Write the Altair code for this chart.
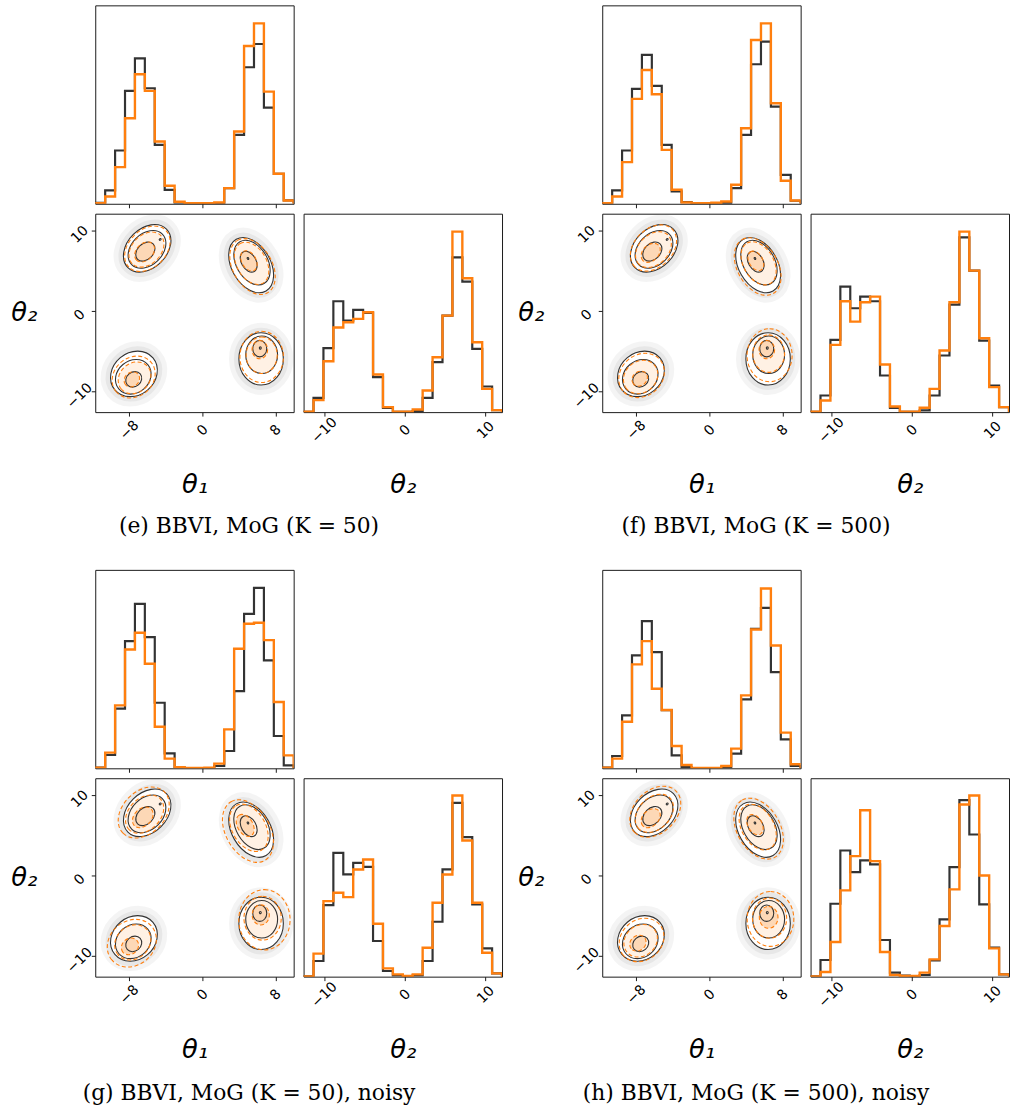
import numpy as np
import pandas as pd
import altair as alt

# Sample ranges of the two parameters; each 1-D histogram uses 20 bins over them.
THETA1_RANGE = [-11.7, 10.0]
THETA2_RANGE = [-12.55, 12.05]
N_BINS = 20
HIST_TOP = 596  # 1.1 x the tallest bin

THETA1_TICKS = [-8, 0, 8]
THETA2_TICKS = [-10, 0, 10]

# ---- 1-D marginal histograms (bin heights), reference (black) vs. BBVI (orange) ----
E_T1_REF = [3, 40, 160, 339, 437, 347, 177, 42, 3, 1, 1, 1, 2, 47, 207, 410, 480, 289, 90, 10]
E_T1_APX = [2, 22, 110, 257, 389, 339, 187, 54, 6, 2, 2, 2, 4, 47, 217, 474, 542, 337, 90, 10]
E_T2_REF = [1, 43, 192, 333, 275, 307, 298, 105, 13, 1, 1, 3, 43, 150, 290, 465, 392, 190, 77, 6]
E_T2_APX = [1, 36, 153, 254, 270, 280, 300, 113, 15, 1, 1, 8, 65, 165, 290, 542, 402, 210, 70, 6]

F_T1_REF = [2, 40, 160, 345, 447, 354, 177, 37, 5, 2, 1, 1, 2, 47, 207, 419, 487, 292, 87, 9]
F_T1_APX = [2, 22, 125, 315, 402, 329, 162, 42, 4, 2, 2, 3, 7, 57, 227, 492, 542, 302, 69, 10]
F_T2_REF = [1, 50, 217, 377, 312, 347, 333, 110, 13, 1, 1, 5, 50, 170, 323, 525, 425, 215, 80, 15]
F_T2_APX = [1, 35, 202, 333, 272, 330, 347, 143, 17, 1, 1, 13, 70, 185, 330, 542, 425, 222, 75, 15]

G_T1_REF = [2, 40, 179, 382, 494, 394, 197, 45, 3, 1, 1, 1, 7, 52, 232, 464, 542, 324, 97, 9]
G_T1_APX = [2, 47, 189, 357, 407, 314, 125, 29, 3, 1, 1, 2, 14, 117, 359, 434, 437, 385, 199, 39]
G_T2_REF = [1, 47, 215, 372, 307, 342, 330, 107, 17, 4, 2, 4, 47, 165, 322, 522, 419, 217, 85, 10]
G_T2_APX = [1, 69, 227, 252, 239, 322, 352, 159, 25, 7, 2, 7, 87, 222, 307, 544, 409, 222, 72, 10]

H_T1_REF = [2, 37, 159, 339, 442, 349, 175, 39, 4, 1, 1, 1, 3, 44, 207, 419, 482, 289, 87, 7]
H_T1_APX = [2, 29, 140, 312, 382, 239, 175, 67, 10, 1, 1, 1, 7, 59, 219, 417, 540, 369, 107, 12]
H_T2_REF = [1, 50, 219, 379, 314, 349, 337, 110, 12, 3, 2, 5, 49, 172, 329, 530, 427, 217, 87, 7]
H_T2_APX = [1, 14, 104, 259, 362, 500, 347, 74, 5, 2, 2, 12, 52, 152, 262, 517, 544, 304, 85, 7]

# ---- 2-D density contours: (mode, level, centre θ1, centre θ2, semi-major axis in θ1 units) ----
MODES = ["A", "B", "C", "D"]
MODE_TILT = {"A": 315, "B": 60, "C": 90, "D": 320}      # orientation of each mode, degrees
MODE_ELONGATION = {"A": 0.72, "B": 0.65, "C": 0.85, "D": 0.85}  # minor / major axis

REF_CONTOURS = [
    ("A", 1, -6.02, 7.76, 2.98), ("A", 2, -6.04, 7.63, 2.37), ("A", 3, -6.22, 7.36, 1.20), ("A", 4, -4.60, 8.86, 0.12),
    ("B", 1, 5.35, 5.67, 3.26), ("B", 2, 5.44, 5.98, 2.64), ("B", 3, 5.08, 6.10, 1.23), ("B", 4, 5.00, 6.50, 0.12),
    ("C", 1, 6.44, -5.95, 2.86), ("C", 2, 6.50, -5.44, 2.05), ("C", 3, 6.29, -4.68, 0.90), ("C", 4, 6.35, -4.60, 0.12),
    ("D", 1, -7.47, -7.81, 2.72), ("D", 2, -7.54, -8.17, 2.07), ("D", 3, -7.49, -8.49, 0.93),
]
E_APX_CONTOURS = [
    ("A", 1, -6.00, 7.70, 2.85), ("A", 2, -6.10, 7.60, 2.20), ("A", 3, -6.30, 7.30, 1.25),
    ("B", 1, 5.50, 5.50, 3.30), ("B", 2, 5.40, 5.90, 2.50), ("B", 3, 5.10, 6.20, 1.20),
    ("C", 1, 6.50, -5.70, 2.80), ("C", 2, 6.50, -5.50, 2.00), ("C", 3, 6.30, -4.80, 1.00),
    ("D", 1, -7.50, -8.20, 2.50), ("D", 2, -7.40, -8.30, 1.90), ("D", 3, -7.70, -8.50, 0.90),
]
F_APX_CONTOURS = [
    ("A", 1, -6.10, 7.80, 2.90), ("A", 2, -6.10, 7.60, 2.25), ("A", 3, -6.40, 7.20, 1.20),
    ("B", 1, 5.30, 5.50, 3.40), ("B", 2, 5.40, 5.90, 2.55), ("B", 3, 5.10, 6.20, 1.15),
    ("C", 1, 6.60, -5.50, 2.90), ("C", 2, 6.50, -5.30, 2.05), ("C", 3, 6.30, -4.80, 1.00),
    ("D", 1, -7.40, -8.00, 2.65), ("D", 2, -7.50, -8.20, 2.00), ("D", 3, -7.60, -8.40, 0.90),
]
G_APX_CONTOURS = [
    ("A", 1, -6.40, 7.80, 3.20), ("A", 2, -6.30, 7.60, 2.40), ("A", 3, -6.50, 7.20, 1.30),
    ("B", 1, 5.00, 5.50, 3.70), ("B", 2, 5.10, 5.90, 2.80), ("B", 3, 4.70, 6.20, 1.30),
    ("C", 1, 6.80, -5.50, 3.30), ("C", 2, 6.60, -5.30, 2.40), ("C", 3, 6.40, -4.90, 1.10),
    ("D", 1, -7.70, -8.40, 2.85), ("D", 2, -7.60, -8.30, 2.10), ("D", 3, -7.90, -8.80, 1.00),
]
H_APX_CONTOURS = [
    ("A", 1, -5.90, 7.90, 3.20), ("A", 2, -6.00, 7.70, 2.40), ("A", 3, -6.40, 7.10, 1.20),
    ("B", 1, 5.40, 5.80, 3.60), ("B", 2, 5.30, 6.00, 2.70), ("B", 3, 5.00, 6.30, 1.20),
    ("C", 1, 6.70, -5.40, 3.00), ("C", 2, 6.60, -5.30, 2.20), ("C", 3, 6.50, -5.20, 1.20),
    ("D", 1, -7.40, -8.00, 2.60), ("D", 2, -7.50, -8.10, 1.95), ("D", 3, -7.80, -8.40, 0.95),
]

CAPTIONS = {
    "e": "(e) BBVI, MoG (K = 50)",
    "f": "(f) BBVI, MoG (K = 500)",
    "g": "(g) BBVI, MoG (K = 50), noisy",
    "h": "(h) BBVI, MoG (K = 500), noisy",
}

REF_COLOR = "#333333"
APX_COLOR = "#ff7f0e"
PANEL = 200
GAP = 10
COL_SPACER = 81
ROW_SPACER = 139

LABEL_STYLE = dict(labelAngle=315, labelAlign="center", labelBaseline="middle")


def ellipse_path(b):
    return f"M -1 0 A 1 {b} 0 1 1 1 0 A 1 {b} 0 1 1 -1 0 Z"


SHAPE_SCALE = alt.Scale(domain=MODES, range=[ellipse_path(MODE_ELONGATION[m]) for m in MODES])
# symbol size is an area: a pow(2) scale turns the semi-axis (θ1 units) into pixels²
PX_PER_UNIT = PANEL / (THETA1_RANGE[1] - THETA1_RANGE[0])
SIZE_SCALE = alt.Scale(type="pow", exponent=2, domain=[0, 4], range=[0, (2 * 4 * PX_PER_UNIT) ** 2])


def hist_frame(counts, rng, series):
    edges = np.linspace(rng[0], rng[1], N_BINS + 1)
    xs = [edges[0]] + list(edges[:-1]) + [edges[-1], edges[-1]]
    ys = [0] + list(counts) + [counts[-1], 0]
    return pd.DataFrame({"x": xs, "n": ys, "i": range(len(xs)), "series": series})


def hist_chart(ref, apx, rng, ticks, title, labels):
    df = pd.concat([hist_frame(ref, rng, "ref"), hist_frame(apx, rng, "apx")], ignore_index=True)
    axis = alt.Axis(values=ticks, labels=labels, title=title, labelPadding=14,
                    titleY=73, titleBaseline="middle", **LABEL_STYLE)
    base = alt.Chart(df).encode(
        x=alt.X("x:Q", scale=alt.Scale(domain=rng, nice=False, zero=False), axis=axis),
        y=alt.Y("n:Q", scale=alt.Scale(domain=[0, HIST_TOP], nice=False), axis=None),
        order="i:Q",
    )
    ref_line = base.transform_filter("datum.series == 'ref'").mark_line(
        interpolate="step-after", color=REF_COLOR, strokeWidth=2.2, clip=True)
    apx_line = base.transform_filter("datum.series == 'apx'").mark_line(
        interpolate="step-after", color=APX_COLOR, strokeWidth=2.4, clip=True)
    return alt.layer(ref_line, apx_line).properties(width=PANEL, height=PANEL)


def contour_frame(rows, series):
    df = pd.DataFrame(rows, columns=["mode", "level", "cx", "cy", "r"])
    df["series"] = series
    df["tilt"] = df["mode"].map(MODE_TILT)
    return df


def scatter_chart(apx_rows, caption, caption_offset):
    df = pd.concat([contour_frame(REF_CONTOURS, "ref"), contour_frame(apx_rows, "apx")], ignore_index=True)
    base = alt.Chart(df).encode(
        x=alt.X("cx:Q", scale=alt.Scale(domain=THETA1_RANGE, nice=False, zero=False),
                axis=alt.Axis(values=THETA1_TICKS, title="θ₁", labelPadding=14,
                              titleY=73, titleBaseline="middle", **LABEL_STYLE)),
        y=alt.Y("cy:Q", scale=alt.Scale(domain=THETA2_RANGE, nice=False, zero=False),
                axis=alt.Axis(values=THETA2_TICKS, title="θ₂", labelPadding=12, labelOffset=4,
                              titleAngle=0, titleX=-72, titleY=100, titleAlign="center",
                              titleBaseline="middle", **LABEL_STYLE)),
        size=alt.Size("r:Q", scale=SIZE_SCALE, legend=None),
        shape=alt.Shape("mode:N", scale=SHAPE_SCALE, legend=None),
        angle=alt.Angle("tilt:Q", scale=None),
    )
    outer_ref = base.transform_filter("datum.series == 'ref' && datum.level == 1")
    haze_wide = outer_ref.mark_point(filled=False, color="#8a8a8a", strokeWidth=20, opacity=0.09, clip=True)
    haze_mid = outer_ref.mark_point(filled=False, color="#8a8a8a", strokeWidth=10, opacity=0.12, clip=True)
    inner_white = outer_ref.mark_point(filled=True, color="#ffffff", opacity=1, clip=True)
    apx_mid = base.transform_filter("datum.series == 'apx' && datum.level == 2").mark_point(
        filled=True, color="#fff1e4", opacity=1, clip=True)
    apx_core = base.transform_filter("datum.series == 'apx' && datum.level == 3").mark_point(
        filled=True, color="#fdd8b6", opacity=1, clip=True)
    ref_lines = base.transform_filter("datum.series == 'ref'").mark_point(
        filled=False, color=REF_COLOR, strokeWidth=1.1, opacity=1, clip=True)
    apx_lines = base.transform_filter("datum.series == 'apx'").mark_point(
        filled=False, color=APX_COLOR, strokeWidth=1.1, strokeDash=[4, 2.5], opacity=1, clip=True)
    return alt.layer(haze_wide, haze_mid, inner_white, apx_mid, apx_core, ref_lines, apx_lines).properties(
        width=PANEL, height=PANEL,
        title=alt.TitleParams(caption, orient="bottom", anchor="middle", frame="group", dx=55,
                              offset=caption_offset, font="DejaVu Serif", fontSize=22,
                              fontWeight="normal", color="black"),
    )


def blank(w, h):
    return alt.Chart(pd.DataFrame({"v": [0]})).mark_point(opacity=0, size=0).encode(
        x=alt.X("v:Q", axis=None), y=alt.Y("v:Q", axis=None)
    ).properties(width=w, height=h, view=alt.ViewBackground(strokeOpacity=0))


def top(ref, apx):
    return hist_chart(ref, apx, THETA1_RANGE, THETA1_TICKS, "", False)


def right(ref, apx):
    return hist_chart(ref, apx, THETA2_RANGE, THETA2_TICKS, "θ₂", True)


cells = [
    top(E_T1_REF, E_T1_APX), blank(1, 1), blank(COL_SPACER, 1), top(F_T1_REF, F_T1_APX), blank(1, 1),
    scatter_chart(E_APX_CONTOURS, CAPTIONS["e"], 19), right(E_T2_REF, E_T2_APX), blank(1, 1),
    scatter_chart(F_APX_CONTOURS, CAPTIONS["f"], 19), right(F_T2_REF, F_T2_APX),
    blank(1, ROW_SPACER), blank(1, 1), blank(1, 1), blank(1, 1), blank(1, 1),
    top(G_T1_REF, G_T1_APX), blank(1, 1), blank(1, 1), top(H_T1_REF, H_T1_APX), blank(1, 1),
    scatter_chart(G_APX_CONTOURS, CAPTIONS["g"], 21), right(G_T2_REF, G_T2_APX), blank(1, 1),
    scatter_chart(H_APX_CONTOURS, CAPTIONS["h"], 21), right(H_T2_REF, H_T2_APX),
]

chart = alt.concat(*cells, columns=5, spacing=GAP, bounds="flush", align="each").properties(
    padding={"top": 0, "left": 10, "right": 0, "bottom": 0}
).configure_view(stroke="#1a1a1a", strokeWidth=1).configure_axis(
    grid=False, domain=False, ticks=True, tickSize=4, tickWidth=1, tickColor="#1a1a1a",
    labelFont="DejaVu Sans", labelFontSize=14, labelColor="#000000",
    titleFont="DejaVu Sans", titleFontSize=26, titleFontWeight="normal", titleFontStyle="italic",
    titleColor="#000000",
)

chart.save("out.html", embed_options={"renderer": "svg", "actions": False})
